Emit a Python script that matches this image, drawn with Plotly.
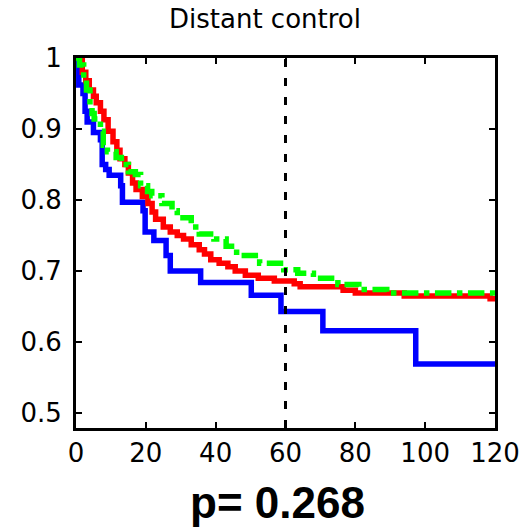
import plotly.graph_objects as go

# Kaplan-Meier style step data (months, survival)
blue_t = [0, 0.8, 2.0, 2.6, 3.2, 5.0, 7.0, 7.5, 8.5, 9.5, 12.8, 13.3, 19.2, 19.8, 22.3, 25.8, 27.0, 35.7, 50.2, 58.7, 70.7, 97.3, 120]
blue_s = [1.0, 0.962, 0.950, 0.925, 0.910, 0.895, 0.885, 0.850, 0.843, 0.835, 0.820, 0.797, 0.785, 0.755, 0.743, 0.722, 0.700, 0.684, 0.666, 0.643, 0.616, 0.569, 0.569]

red_t = [0, 1.8, 2.8, 3.8, 5.0, 5.8, 7.0, 8.0, 9.2, 10.6, 11.7, 12.6, 14.0, 15.0, 16.2, 17.2, 19.0, 20.6, 21.8, 22.8, 25.0, 27.0, 29.0, 30.8, 33.0, 35.3, 36.8, 38.6, 41.0, 43.5, 45.6, 48.5, 52.2, 56.8, 62.5, 64.2, 76.5, 80.0, 94.0, 118.6, 120]
red_s = [1.0, 0.980, 0.968, 0.955, 0.946, 0.937, 0.925, 0.913, 0.897, 0.882, 0.870, 0.858, 0.850, 0.838, 0.824, 0.815, 0.805, 0.795, 0.783, 0.773, 0.762, 0.755, 0.750, 0.745, 0.737, 0.730, 0.724, 0.716, 0.711, 0.706, 0.700, 0.694, 0.690, 0.686, 0.682, 0.678, 0.673, 0.669, 0.665, 0.661, 0.661]

green_t = [0, 1.0, 2.2, 3.0, 4.0, 4.6, 5.2, 7.0, 7.8, 9.0, 11.5, 13.0, 15.0, 17.0, 18.5, 20.5, 21.7, 24.6, 27.5, 29.0, 33.0, 35.3, 39.5, 43.0, 46.0, 52.6, 59.5, 63.5, 68.0, 75.0, 81.0, 89.0, 120]
green_s = [1.0, 0.990, 0.970, 0.955, 0.932, 0.922, 0.914, 0.897, 0.877, 0.868, 0.860, 0.850, 0.840, 0.836, 0.820, 0.812, 0.806, 0.795, 0.785, 0.775, 0.762, 0.752, 0.745, 0.735, 0.722, 0.711, 0.702, 0.697, 0.690, 0.681, 0.674, 0.669, 0.669]

x_ticks = [0, 20, 40, 60, 80, 100, 120]
y_ticks = [0.5, 0.6, 0.7, 0.8, 0.9, 1.0]
y_tick_labels = ["0.5", "0.6", "0.7", "0.8", "0.9", "1"]
cutoff = 60
title_text = "Distant control"
p_text = "p= 0.268"

fig = go.Figure()
fig.add_trace(go.Scatter(x=blue_t, y=blue_s, mode="lines", line=dict(color="#0000ff", width=5.5, shape="hv"), hoverinfo="skip"))
fig.add_trace(go.Scatter(x=red_t, y=red_s, mode="lines", line=dict(color="#ff0000", width=5.5, shape="hv"), hoverinfo="skip"))
fig.add_trace(go.Scatter(x=green_t, y=green_s, mode="lines", line=dict(color="#00ff00", width=5.5, shape="hv", dash="dashdot"), hoverinfo="skip"))

fig.add_shape(type="line", xref="x", yref="paper", x0=cutoff, x1=cutoff, y0=0, y1=1,
              line=dict(color="black", width=3, dash="8px,11px"))

tickfont = dict(family="DejaVu Sans", size=26, color="black")
fig.update_xaxes(range=[0, 120], tickvals=x_ticks, ticks="inside", ticklen=6, tickwidth=2, tickcolor="black",
                 showline=True, linewidth=3, linecolor="black", mirror="allticks", showgrid=False, zeroline=False,
                 tickfont=tickfont, ticklabelstandoff=0, automargin=False)
fig.update_yaxes(range=[0.479, 1.0], tickvals=y_ticks, ticktext=y_tick_labels, ticks="inside", ticklen=6, tickwidth=2,
                 tickcolor="black", showline=True, linewidth=3, linecolor="black", mirror="allticks", showgrid=False,
                 zeroline=False, tickfont=tickfont, ticklabelstandoff=6, automargin=False)

fig.add_annotation(text=title_text, xref="paper", yref="paper", x=0.451, y=1.105, xanchor="center", yanchor="middle",
                   showarrow=False, font=dict(family="DejaVu Sans", size=26, color="black"))
fig.add_annotation(text="<b>" + p_text + "</b>", xref="paper", yref="paper", x=0.481, y=-0.2, xanchor="center",
                   yanchor="middle", showarrow=False, font=dict(family="Liberation Sans", size=44, color="black"))

fig.update_layout(width=522, height=531, margin=dict(l=76, r=27, t=58, b=103), showlegend=False,
                  plot_bgcolor="white", paper_bgcolor="white", hovermode=False)

fig.write_html("out.html", config={"displayModeBar": False},
               post_script="document.body.style.margin='0';document.body.style.overflow='hidden';")
